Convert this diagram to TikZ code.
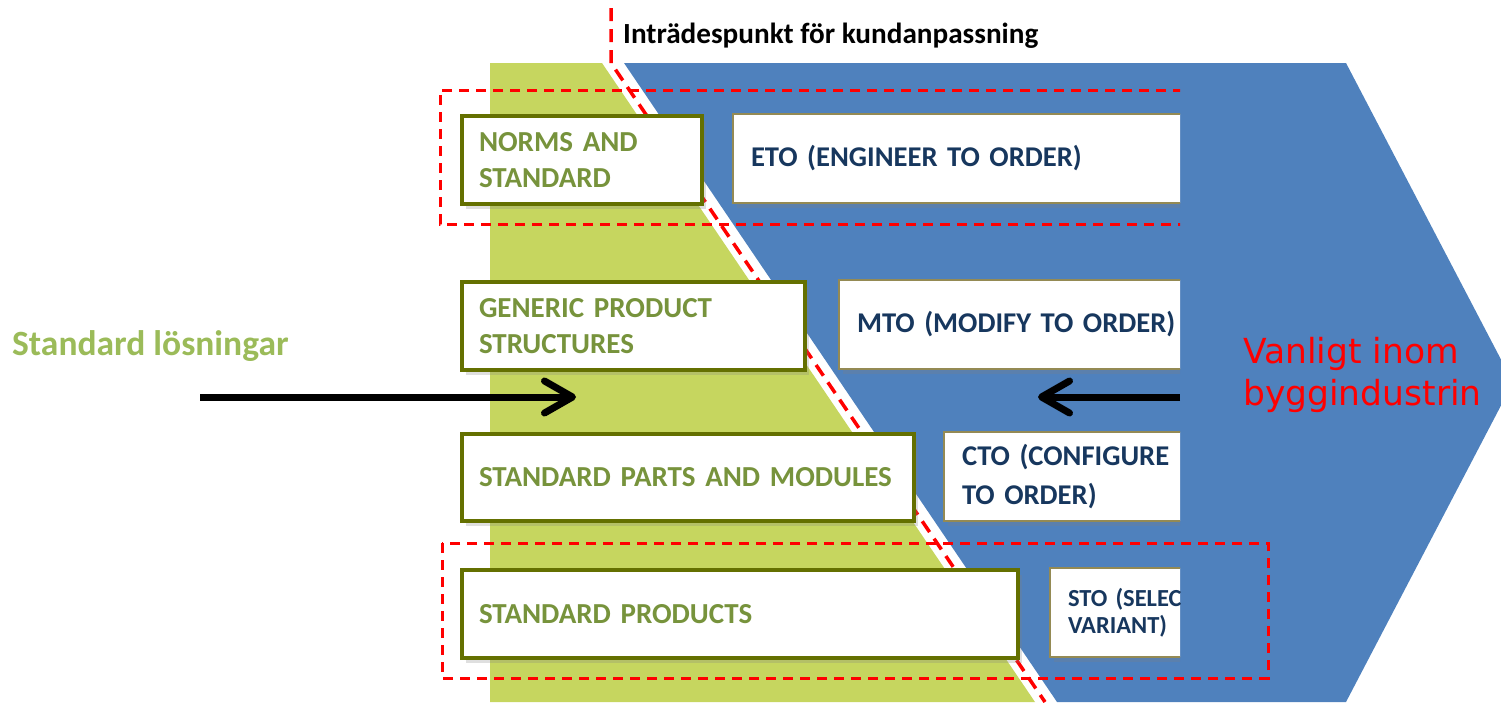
\documentclass[tikz,border=0pt]{standalone}
\usepackage{fontspec}
\setmainfont{Carlito}
\newfontfamily\dejavu{DejaVu Sans}
\usetikzlibrary{arrows.meta,shadows}
\definecolor{greenbg}{RGB}{198,214,95}
\definecolor{bluebg}{RGB}{79,129,189}
\definecolor{olive}{RGB}{100,112,0}
\definecolor{gtxt}{RGB}{119,147,60}
\definecolor{lgtxt}{RGB}{155,187,89}
\definecolor{navy}{RGB}{23,55,94}
\definecolor{tan}{RGB}{148,138,84}
\tikzset{
  gbox/.style={draw=olive, line width=4pt, fill=white, anchor=north west, inner xsep=17pt, inner ysep=0pt,
    align=left, text=gtxt, font=\bfseries\fontsize{29}{36}\selectfont,
    drop shadow={shadow xshift=4pt, shadow yshift=-5pt, opacity=0.25}},
  bbox/.style={draw=tan, line width=2pt, fill=white, anchor=north west, inner xsep=18pt, inner ysep=0pt,
    align=left, text=navy, font=\bfseries\fontsize{28.6}{39}\selectfont, text width=520pt,
    drop shadow={shadow xshift=4pt, shadow yshift=-5pt, opacity=0.25}},
  reddash/.style={draw=red, line width=3pt, dash pattern=on 10pt off 7pt},
  bigarrow/.style={line width=7pt, -{Straight Barb[length=28pt 0 0, width=32pt 0 0, line cap=round, line join=round]}},
}
\begin{document}
\begin{tikzpicture}[x=1pt,y=-1pt]
\useasboundingbox (0,0) rectangle (1501,702);
\clip (0,0) rectangle (1501,702);
% background shapes
\fill[greenbg] (490,63) -- (602,63) -- (1035,702) -- (490,702) -- cycle;
\fill[bluebg] (624,63) -- (1346,63) -- (1513,382.5) -- (1346,702) -- (1057,702) -- cycle;
\draw[draw=red, line width=3.5pt, dash pattern=on 13pt off 8pt] (611,8) -- (611,63) -- (1045,702);
% clipped right-hand layer
\begin{scope}
\clip (0,0) rectangle (1180,702);
\draw[reddash] (1200,90) -- (440,90) -- (440,224) -- (1200,224);
\node[bbox, minimum height=89pt] (eto) at (732,113) {ETO (ENGINEER TO ORDER)};
\node[bbox, minimum height=89pt] (mto) at (838,279) {MTO (MODIFY TO ORDER)};
\node[bbox, minimum height=89pt] (cto) at (943,431) {CTO (CONFIGURE\\TO ORDER)};
\node[bbox, minimum height=89pt, font=\bfseries\fontsize{24.5}{27}\selectfont] (sto) at (1049,567) {STO (SELECT\\VARIANT)};
\end{scope}
% left boxes
\node[gbox, text width=206pt, minimum height=88pt] (norms) at (460,114) {NORMS AND\\STANDARD};
\node[gbox, text width=309pt, minimum height=88pt] (generic) at (460,280) {GENERIC PRODUCT\\STRUCTURES};
\node[gbox, text width=418pt, minimum height=87pt] (parts) at (460,432) {STANDARD PARTS AND MODULES};
\node[gbox, text width=522pt, minimum height=88pt] (products) at (460,568) {STANDARD PRODUCTS};
% bottom dashed frame
\draw[reddash] (442,543) rectangle (1268,678);
% arrows
\coordinate (la1) at (200,397);
\coordinate (la2) at (576,397);
\coordinate (ra1) at (1180,397);
\coordinate (ra2) at (1038,397);
\draw[bigarrow] (la1) -- (la2);
\draw[bigarrow] (ra1) -- (ra2);
% labels
\node[anchor=base west, inner sep=0pt, font=\bfseries\fontsize{29.2}{34}\selectfont] (entry) at (623,43) {Inträdespunkt för kundanpassning};
\node[anchor=base west, inner sep=0pt, text=lgtxt, font=\bfseries\fontsize{35.5}{40}\selectfont] (std) at (12,355) {Standard lösningar};
\node[anchor=base west, inner sep=0pt, align=left, text=red, font=\dejavu\fontsize{34.5}{42}\selectfont] (vanl) at (1243,405) {Vanligt inom\\byggindustrin};
\end{tikzpicture}
\end{document}
